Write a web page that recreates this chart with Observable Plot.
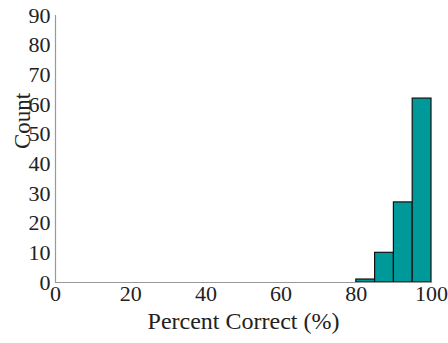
<!DOCTYPE html>
<html>
<head>
<meta charset="utf-8">
<script src="https://cdn.jsdelivr.net/npm/d3@7"></script>
<script src="https://cdn.jsdelivr.net/npm/@observablehq/plot@0.6"></script>
<style>
  html, body { margin: 0; padding: 0; background: #fff; }
  svg { display: block; }
</style>
</head>
<body>
<div id="chart"></div>
<script>
const binStart = [80, 85, 90, 95];
const binEnd = [85, 90, 95, 100];
const counts = [1, 10, 27, 62];
const xTicks = [0, 20, 40, 60, 80, 100];
const yTicks = [0, 10, 20, 30, 40, 50, 60, 70, 80, 90];

const data = binStart.map((s, i) => ({x1: s, x2: binEnd[i], y: counts[i]}));

const chart = Plot.plot({
  width: 448,
  height: 343,
  marginLeft: 55,
  marginRight: 17,
  marginTop: 15,
  marginBottom: 61,
  style: {fontFamily: "'Liberation Serif', 'DejaVu Serif', serif", fontSize: "22px", color: "#222", background: "#fff"},
  x: {domain: [0, 100]},
  y: {domain: [0, 90]},
  marks: [
    Plot.rectY(data, {x1: "x1", x2: "x2", y: "y", fill: "#009999", stroke: "#111", strokeWidth: 1.2}),
    Plot.ruleX([0], {stroke: "#999", strokeWidth: 1.2}),
    Plot.ruleY([0], {stroke: "#999", strokeWidth: 1.2}),
    Plot.axisY(yTicks, {tickSize: 0, tickPadding: 5, label: null, fontSize: 22, fill: "#222"}),
    Plot.axisX(xTicks, {tickSize: 0, tickPadding: 3, label: null, fontSize: 22, fill: "#222"}),
    Plot.text(["Count"], {frameAnchor: "left", rotate: -90, dx: -33, fontSize: 23, fill: "#222"}),
    Plot.text(["Percent Correct (%)"], {frameAnchor: "bottom", dy: 46, fontSize: 24, fill: "#222"})
  ]
});
document.getElementById("chart").appendChild(chart);
</script>
</body>
</html>
